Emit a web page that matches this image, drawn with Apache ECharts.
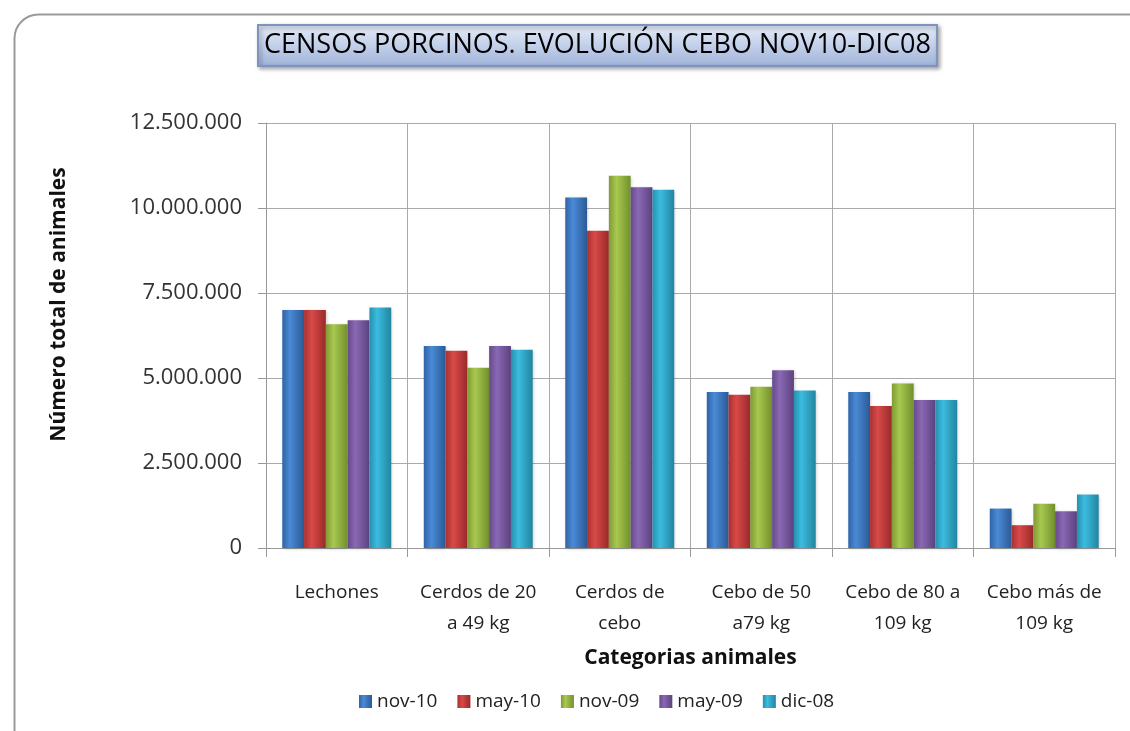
<!DOCTYPE html>
<html>
<head>
<meta charset="utf-8">
<script src="https://cdn.jsdelivr.net/npm/echarts@6/dist/echarts.min.js"></script>
<style>
  html, body { margin: 0; padding: 0; background: #fff; }
  #chart { width: 1130px; height: 731px; }
</style>
</head>
<body>
<div id="chart"></div>
<script>
// categorias y series
const categorias = ["Lechones", "Cerdos de 20\na 49 kg", "Cerdos de\ncebo", "Cebo de 50\na79 kg", "Cebo de 80 a\n109 kg", "Cebo más de\n109 kg"];
const nov10 = [7000000, 5940000, 10310000, 4590000, 4590000, 1160000];
const may10 = [7000000, 5800000, 9330000, 4510000, 4180000, 670000];
const nov09 = [6580000, 5300000, 10950000, 4740000, 4840000, 1300000];
const may09 = [6700000, 5940000, 10610000, 5230000, 4350000, 1080000];
const dic08 = [7070000, 5830000, 10540000, 4630000, 4350000, 1570000];
const nombres = ["nov-10", "may-10", "nov-09", "may-09", "dic-08"];
const colores = [
  ["#2f64a6", "#4a8ad6", "#2a5a96"],
  ["#a83030", "#d84a48", "#9a2a2a"],
  ["#7f9a34", "#a8c850", "#72902c"],
  ["#664a8a", "#8a68b4", "#5c4280"],
  ["#2590ae", "#3cbce0", "#22859f"]
];

const chart = echarts.init(document.getElementById("chart"));

// formato 12.500.000
function fmt(v) {
  return String(v).replace(/\B(?=(\d{3})+(?!\d))/g, ".");
}

let series = [nov10, may10, nov09, may09, dic08].map((d, i) => {
  return {
    name: nombres[i],
    type: "bar",
    data: d,
    barGap: "0%",
    barCategoryGap: "23%",
    itemStyle: {
      color: {
        type: "linear", x: 0, y: 0, x2: 1, y2: 0,
        colorStops: [
          { offset: 0, color: colores[i][0] },
          { offset: 0.35, color: colores[i][1] },
          { offset: 1, color: colores[i][2] }
        ]
      },
      shadowColor: "rgba(0,0,0,0.2)",
      shadowBlur: 3,
      shadowOffsetX: 1,
      shadowOffsetY: 1
    }
  };
});

let option = {
  animation: false,
  textStyle: { fontFamily: "Open Sans" },
  title: {
    text: "CENSOS PORCINOS. EVOLUCIÓN CEBO NOV10-DIC08",
    left: 258,
    top: 25,
    padding: [7, 6, 7, 6],
    backgroundColor: {
      type: "linear", x: 0, y: 0, x2: 0, y2: 1,
      colorStops: [
        { offset: 0, color: "#e6ecf8" },
        { offset: 0.5, color: "#c3d0ea" },
        { offset: 1, color: "#9eb1d8" }
      ]
    },
    borderColor: "#7f93c0",
    borderWidth: 2,
    shadowColor: "rgba(0,0,0,0.35)",
    shadowBlur: 4,
    shadowOffsetX: 2,
    shadowOffsetY: 2,
    textStyle: {
      fontFamily: "Open Sans",
      fontSize: 27,
      fontWeight: "normal",
      color: "#000"
    }
  },
  legend: {
    top: 687,
    left: 354,
    itemWidth: 13,
    itemHeight: 13,
    itemGap: 20,
    icon: "rect",
    textStyle: { fontSize: 19, color: "#222" },
    data: nombres
  },
  grid: {
    left: 266,
    right: 15,
    top: 123,
    bottom: 183
  },
  xAxis: [
    {
      type: "category",
      data: categorias,
      name: "Categorias animales",
      nameLocation: "middle",
      nameGap: 100,
      nameTextStyle: { fontSize: 21, fontWeight: "bold", color: "#111" },
      axisLine: { show: true, lineStyle: { color: "#999" } },
      axisTick: { show: true, interval: 0, length: 9, lineStyle: { color: "#999" } },
      splitLine: { show: true, interval: 0, lineStyle: { color: "#aaa" } },
      axisLabel: {
        interval: 0,
        fontSize: 19,
        color: "#222",
        lineHeight: 31,
        margin: 29
      }
    }
  ],
  yAxis: [
    {
      type: "value",
      min: 0,
      max: 12500000,
      interval: 2500000,
      name: "Número total de animales",
      nameLocation: "middle",
      nameGap: 196,
      nameRotate: 90,
      nameTextStyle: { fontSize: 21, fontWeight: "bold", color: "#111", padding: [0, 0, 0, 62] },
      axisLine: { show: true, lineStyle: { color: "#999" } },
      axisTick: { show: true, length: 8, lineStyle: { color: "#999" } },
      splitLine: { lineStyle: { color: "#aaa" } },
      axisLabel: {
        fontSize: 22,
        color: "#333",
        margin: 24,
        formatter: fmt
      }
    }
  ],
  graphic: [
    {
      type: "rect",
      left: 12,
      top: 12,
      shape: { width: 1140, height: 740, r: 24 },
      style: { fill: "none", stroke: "#9a9a9a", lineWidth: 2 },
      silent: true,
      z: -1
    }
  ],
  series: series
};

chart.setOption(option);
window.addEventListener("resize", () => {
  chart.resize();
});
</script>
</body>
</html>
